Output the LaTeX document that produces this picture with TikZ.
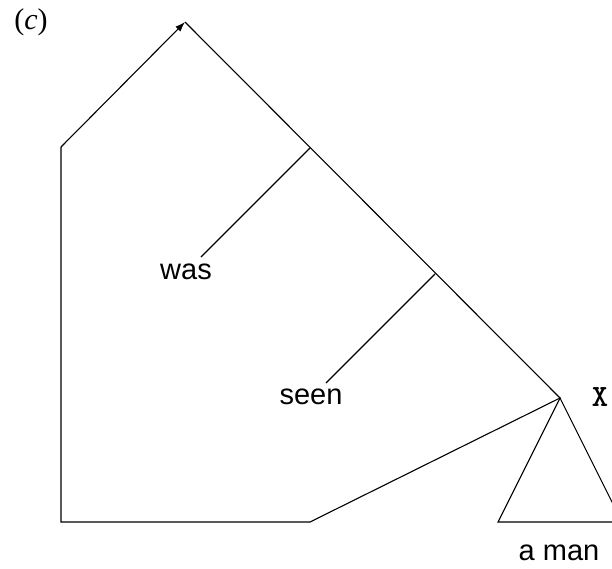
\documentclass[tikz,border=0pt]{standalone}
\usepackage{fontspec}
\setmainfont{Liberation Serif}
\setsansfont{Liberation Sans}
\usetikzlibrary{arrows.meta}
\begin{document}
\begin{tikzpicture}[x=1pt,y=-1pt,
  edge/.style={line width=1.1pt,black},
  word/.style={inner sep=0pt,font=\sffamily\fontsize{29}{32}\selectfont},
  tag/.style={inner sep=0pt,font=\ttfamily\bfseries\fontsize{31}{34}\selectfont},
  label/.style={inner sep=0pt,font=\fontsize{30}{32}\selectfont}]
\useasboundingbox (0,0) rectangle (612,568);
\clip (0,0) rectangle (612,568);
\coordinate (top) at (185,22);
\coordinate (lu) at (61,147);
\coordinate (lb) at (61,522);
\coordinate (br) at (310,522);
\coordinate (vx) at (560,398);
\coordinate (b1s) at (310,148);
\coordinate (b1e) at (201,257);
\coordinate (b2s) at (435,274);
\coordinate (b2e) at (326,383);
\coordinate (tl) at (498,522);
\coordinate (tr) at (622,522);
\node[label] (c) at (31,22) {(\textit{c})};
\node[word] (was) at (186,272) {was};
\node[word] (seen) at (311,397) {seen};
\node[word] (aman) at (559,553) {a man};
\node[tag] (x) at (600,397) {X};
\draw[edge,line join=miter] (top) -- (vx) -- (br) -- (lb) -- (lu);
\draw[edge,-{Latex[length=10pt,width=7pt]}] (lu) -- (top);
\draw[edge] (b1s) -- (b1e);
\draw[edge] (b2s) -- (b2e);
\draw[edge] (vx) -- (tl) -- (tr) -- cycle;
\end{tikzpicture}
\end{document}
